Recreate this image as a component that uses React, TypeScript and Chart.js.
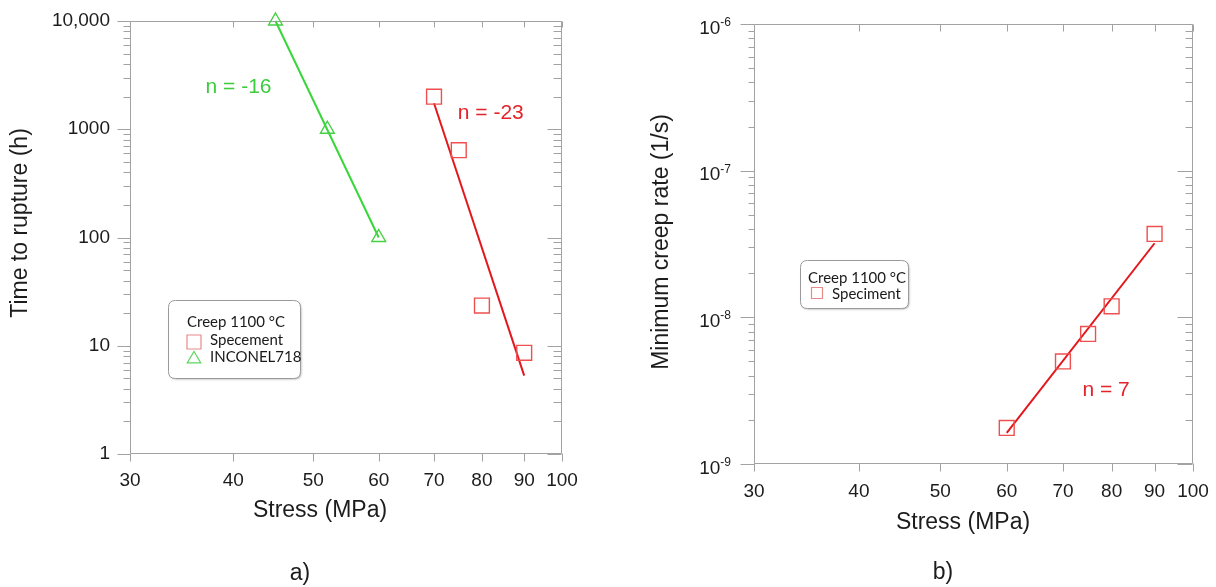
import React, { useEffect, useRef } from "react";
import { Chart, registerables } from "chart.js";

Chart.register(...registerables);

// ---------- Panel a) Time to rupture vs stress ----------
const stressSpecimen = [70, 75, 80, 90];
const ruptureSpecimen = [2000, 640, 23.5, 8.6];
const stressInconel = [45, 52, 60];
const ruptureInconel = [10000, 1000, 100];
const fitSpecimenStress = [70, 90];
const fitSpecimenRupture = [1740, 5.3];
const fitInconelStress = [45, 60];
const fitInconelRupture = [10000, 100];

// ---------- Panel b) Minimum creep rate vs stress ----------
const stressRate = [60, 70, 75, 80, 90];
const minCreepRate = [1.76e-9, 5.0e-9, 7.7e-9, 1.19e-8, 3.7e-8];
const fitRateStress = [60, 90];
const fitRateValues = [1.63e-9, 3.2e-8];

// ---------- Axis ticks / labels ----------
const stressTicks = [30, 40, 50, 60, 70, 80, 90, 100];
const ruptureTicks = [1, 10, 100, 1000, 10000];
const ruptureTickLabels = ["1", "10", "100", "1000", "10,000"];
const rateTicks = [1e-9, 1e-8, 1e-7, 1e-6];
const rateTickExponents = ["-9", "-8", "-7", "-6"];

// ---------- Texts ----------
const legendTitle = "Creep 1100 °C";
const labelSpecimenA = "Specement";
const labelInconel = "INCONEL718";
const labelSpecimenB = "Speciment";
const xTitleText = "Stress (MPa)";
const yTitleA = "Time to rupture (h)";
const yTitleB = "Minimum creep rate (1/s)";
const noteInconel = "n = -16";
const noteSpecimenA = "n = -23";
const noteSpecimenB = "n = 7";
// annotation anchors in data coordinates [stress, value]
const noteInconelAt = [40.6, 2455];
const noteSpecimenAAt = [82, 1413];
const noteSpecimenBAt = [78.8, 3.21e-9];

const FONT = "'Liberation Sans', Arial, sans-serif";
const LEGEND_FONT = "Lato, 'Open Sans', sans-serif";
const TEXT = "#1c1c1c";
const FRAME = "#a2a2a2";
const RED_LINE = "#e3171c";
const RED_MARK = "#ef4f4f";
const RED_TEXT = "#e3232a";
const GREEN_LINE = "#38d638";
const GREEN_MARK = "#45d045";
const GREEN_TEXT = "#3ccc3c";

function decadeMinors(majors: number[]): number[] {
  const out: number[] = [];
  for (let i = 0; i < majors.length - 1; i++) {
    for (let k = 2; k <= 9; k++) out.push(majors[i] * k);
  }
  return out;
}

function pts(xs: number[], ys: number[]) {
  return xs.map((x, i) => ({ x, y: ys[i] }));
}

function roundRect(ctx: any, x: number, y: number, w: number, h: number, r: number) {
  ctx.beginPath();
  ctx.moveTo(x + r, y);
  ctx.lineTo(x + w - r, y);
  ctx.quadraticCurveTo(x + w, y, x + w, y + r);
  ctx.lineTo(x + w, y + h - r);
  ctx.quadraticCurveTo(x + w, y + h, x + w - r, y + h);
  ctx.lineTo(x + r, y + h);
  ctx.quadraticCurveTo(x, y + h, x, y + h - r);
  ctx.lineTo(x, y + r);
  ctx.quadraticCurveTo(x, y, x + r, y);
  ctx.closePath();
}

function makeDeco(d: any) {
  return {
    id: "deco",
    beforeDatasetsDraw(chart: any) {
      const { ctx, chartArea: a, scales } = chart;
      const xs = scales.x;
      const ys = scales.y;
      const t = d.ticks;
      ctx.save();
      ctx.strokeStyle = FRAME;
      ctx.lineWidth = 1;
      const L = Math.round(a.left) + 0.5;
      const R = Math.round(a.right) - 0.5;
      const T = Math.round(a.top) + 0.5;
      const B = Math.round(a.bottom) - 0.5;
      ctx.beginPath();
      ctx.rect(L, T, R - L, B - T);
      for (const v of ys.ticks.map((k: any) => k.value)) {
        const y = Math.round(ys.getPixelForValue(v)) + 0.5;
        ctx.moveTo(L - t.leftMajor, y);
        ctx.lineTo(L, y);
        ctx.moveTo(R, y);
        ctx.lineTo(R - t.rightMajor, y);
      }
      for (const v of t.yMinor) {
        const y = Math.round(ys.getPixelForValue(v)) + 0.5;
        ctx.moveTo(L - t.leftMinor, y);
        ctx.lineTo(L, y);
        ctx.moveTo(R, y);
        ctx.lineTo(R - t.rightMinor, y);
      }
      for (const v of xs.ticks.map((k: any) => k.value)) {
        const x = Math.round(xs.getPixelForValue(v)) + 0.5;
        ctx.moveTo(x, B);
        ctx.lineTo(x, B + t.bottom);
        ctx.moveTo(x, T);
        ctx.lineTo(x, T + t.top);
      }
      ctx.stroke();
      ctx.restore();
    },
    afterDraw(chart: any) {
      const { ctx, scales } = chart;
      const xs = scales.x;
      const ys = scales.y;
      ctx.save();
      ctx.fillStyle = TEXT;
      // axis titles
      ctx.font = `23px ${FONT}`;
      ctx.textAlign = "center";
      ctx.textBaseline = "middle";
      ctx.fillText(d.xTitle.text, d.xTitle.x, d.xTitle.y);
      ctx.save();
      ctx.translate(d.yTitle.x, d.yTitle.y);
      ctx.rotate(-Math.PI / 2);
      ctx.fillText(d.yTitle.text, 0, 0);
      ctx.restore();

      // superscript tick labels
      if (d.sup) {
        for (let i = 0; i < d.sup.values.length; i++) {
          const y = ys.getPixelForValue(d.sup.values[i]);
          ctx.textBaseline = "alphabetic";
          ctx.textAlign = "right";
          ctx.font = `12px ${FONT}`;
          const ew = ctx.measureText(d.sup.exps[i]).width;
          ctx.fillText(d.sup.exps[i], d.sup.right, y + 2);
          ctx.font = `19px ${FONT}`;
          ctx.fillText("10", d.sup.right - ew, y + 9.5);
        }
      }

      // regression annotations
      ctx.font = `21px ${FONT}`;
      ctx.textAlign = "center";
      ctx.textBaseline = "middle";
      for (const n of d.notes) {
        ctx.fillStyle = n.color;
        ctx.fillText(n.text, xs.getPixelForValue(n.at[0]), ys.getPixelForValue(n.at[1]));
      }

      // legend
      const g = d.legend;
      ctx.save();
      ctx.shadowColor = "rgba(0,0,0,0.28)";
      ctx.shadowBlur = 2;
      ctx.shadowOffsetX = 1;
      ctx.shadowOffsetY = 1;
      roundRect(ctx, g.x + 0.5, g.y + 0.5, g.w, g.h, 7);
      ctx.fillStyle = "#ffffff";
      ctx.fill();
      ctx.restore();
      roundRect(ctx, g.x + 0.5, g.y + 0.5, g.w, g.h, 7);
      ctx.strokeStyle = "#9a9a9a";
      ctx.lineWidth = 1;
      ctx.stroke();
      ctx.fillStyle = "#1a1a1a";
      ctx.font = `15px ${LEGEND_FONT}`;
      ctx.textAlign = "left";
      ctx.textBaseline = "middle";
      ctx.fillText(g.title, g.titleX, g.titleY);
      for (const it of g.items) {
        ctx.fillStyle = "#1a1a1a";
        ctx.fillText(it.label, it.tx, it.ty);
        ctx.strokeStyle = it.color;
        ctx.lineWidth = 1.2;
        ctx.beginPath();
        const s = it.size / 2;
        if (it.shape === "rect") {
          ctx.rect(it.mx - s, it.my - s, it.size, it.size);
        } else {
          ctx.moveTo(it.mx, it.my - s);
          ctx.lineTo(it.mx + s * 1.05, it.my + s * 0.75);
          ctx.lineTo(it.mx - s * 1.05, it.my + s * 0.75);
          ctx.closePath();
        }
        ctx.stroke();
      }
      ctx.restore();
    },
  };
}

function commonScales(opts: any) {
  return {
    x: {
      type: "logarithmic",
      min: 30,
      max: 100,
      bounds: "data",
      afterBuildTicks: (s: any) => {
        s.ticks = stressTicks.map((v) => ({ value: v }));
      },
      afterFit: (s: any) => {
        s.height = opts.xHeight;
        s.paddingLeft = 0;
        s.paddingRight = 0;
        s.paddingTop = 0;
        s.paddingBottom = 0;
      },
      grid: { display: false, drawTicks: false, tickLength: 0 },
      border: { display: false },
      ticks: {
        autoSkip: false,
        maxRotation: 0,
        padding: opts.xPad,
        color: TEXT,
        font: { family: FONT, size: 19 },
        callback: (v: any) => String(v),
      },
      title: { display: false },
    },
    y: {
      type: "logarithmic",
      min: opts.yMin,
      max: opts.yMax,
      bounds: "data",
      afterBuildTicks: (s: any) => {
        s.ticks = opts.yTicks.map((v: number) => ({ value: v }));
      },
      afterFit: (s: any) => {
        s.width = opts.yWidth;
        s.paddingLeft = 0;
        s.paddingRight = 0;
        s.paddingTop = 0;
        s.paddingBottom = 0;
      },
      grid: { display: false, drawTicks: false, tickLength: 0 },
      border: { display: false },
      ticks: {
        display: opts.yLabels !== null,
        autoSkip: false,
        padding: 20,
        color: TEXT,
        font: { family: FONT, size: 19 },
        callback: (v: any) => {
          if (!opts.yLabels) return "";
          const i = opts.yTicks.indexOf(v);
          return i >= 0 ? opts.yLabels[i] : "";
        },
      },
      title: { display: false },
    },
  };
}

function leftConfig(): any {
  return {
    type: "scatter",
    data: {
      datasets: [
        {
          label: labelSpecimenA,
          data: pts(stressSpecimen, ruptureSpecimen),
          pointStyle: "rect",
          pointRadius: 10.5,
          borderColor: RED_MARK,
          backgroundColor: "rgba(0,0,0,0)",
          borderWidth: 1.4,
          clip: false,
        },
        {
          label: labelInconel,
          data: pts(stressInconel, ruptureInconel),
          pointStyle: "triangle",
          pointRadius: 8,
          borderColor: GREEN_MARK,
          backgroundColor: "rgba(0,0,0,0)",
          borderWidth: 1.4,
          clip: false,
        },
        {
          label: "fit specimen",
          data: pts(fitSpecimenStress, fitSpecimenRupture),
          showLine: true,
          pointRadius: 0,
          borderColor: RED_LINE,
          borderWidth: 2,
          clip: false,
        },
        {
          label: "fit inconel",
          data: pts(fitInconelStress, fitInconelRupture),
          showLine: true,
          pointRadius: 0,
          borderColor: GREEN_LINE,
          borderWidth: 2,
          clip: false,
        },
      ],
    },
    options: {
      animation: false,
      responsive: false,
      devicePixelRatio: 1,
      layout: { padding: { top: 21, right: 38, left: 0, bottom: 0 } },
      plugins: { legend: { display: false }, tooltip: { enabled: false } },
      scales: commonScales({
        xHeight: 133,
        xPad: 15,
        yMin: 1,
        yMax: 10000,
        yTicks: ruptureTicks,
        yLabels: ruptureTickLabels,
        yWidth: 130,
      }),
    },
    plugins: [
      makeDeco({
        ticks: {
          yMinor: decadeMinors(ruptureTicks),
          leftMajor: 13,
          leftMinor: 7,
          rightMajor: 14,
          rightMinor: 8,
          top: 6,
          bottom: 8,
        },
        xTitle: { text: xTitleText, x: 320, y: 511 },
        yTitle: { text: yTitleA, x: 21, y: 223 },
        notes: [
          { text: noteInconel, at: noteInconelAt, color: GREEN_TEXT },
          { text: noteSpecimenA, at: noteSpecimenAAt, color: RED_TEXT },
        ],
        legend: {
          x: 168,
          y: 300,
          w: 132,
          h: 78,
          title: legendTitle,
          titleX: 187,
          titleY: 322,
          items: [
            { label: labelSpecimenA, shape: "rect", color: "#e98a8a", size: 14, mx: 194, my: 342, tx: 210, ty: 340 },
            { label: labelInconel, shape: "tri", color: "#5fd65f", size: 13, mx: 194, my: 358, tx: 210, ty: 357 },
          ],
        },
      }),
    ],
  };
}

function rightConfig(): any {
  return {
    type: "scatter",
    data: {
      datasets: [
        {
          label: labelSpecimenB,
          data: pts(stressRate, minCreepRate),
          pointStyle: "rect",
          pointRadius: 10.5,
          borderColor: RED_MARK,
          backgroundColor: "rgba(0,0,0,0)",
          borderWidth: 1.4,
          clip: false,
        },
        {
          label: "fit specimen",
          data: pts(fitRateStress, fitRateValues),
          showLine: true,
          pointRadius: 0,
          borderColor: RED_LINE,
          borderWidth: 2,
          clip: false,
        },
      ],
    },
    options: {
      animation: false,
      responsive: false,
      devicePixelRatio: 1,
      layout: { padding: { top: 24, right: 23, left: 0, bottom: 0 } },
      plugins: { legend: { display: false }, tooltip: { enabled: false } },
      scales: commonScales({
        xHeight: 123,
        xPad: 16,
        yMin: 1e-9,
        yMax: 1e-6,
        yTicks: rateTicks,
        yLabels: null,
        yWidth: 154,
      }),
    },
    plugins: [
      makeDeco({
        ticks: {
          yMinor: decadeMinors(rateTicks),
          leftMajor: 14,
          leftMinor: 6,
          rightMajor: 15,
          rightMinor: 7,
          top: 7,
          bottom: 8,
        },
        sup: { values: rateTicks, exps: rateTickExponents, right: 131 },
        xTitle: { text: xTitleText, x: 363, y: 523 },
        yTitle: { text: yTitleB, x: 62, y: 242 },
        notes: [{ text: noteSpecimenB, at: noteSpecimenBAt, color: RED_TEXT }],
        legend: {
          x: 200,
          y: 260,
          w: 108,
          h: 48,
          title: legendTitle,
          titleX: 208,
          titleY: 278,
          items: [
            { label: labelSpecimenB, shape: "rect", color: "#e98a8a", size: 11, mx: 217, my: 293, tx: 232, ty: 294 },
          ],
        },
      }),
    ],
  };
}

export default function App() {
  const leftRef = useRef<HTMLCanvasElement>(null);
  const rightRef = useRef<HTMLCanvasElement>(null);

  useEffect(() => {
    document.body.style.margin = "0";
    const a = new Chart(leftRef.current as HTMLCanvasElement, leftConfig());
    const b = new Chart(rightRef.current as HTMLCanvasElement, rightConfig());
    return () => {
      a.destroy();
      b.destroy();
    };
  }, []);

  return (
    <div
      style={{
        position: "relative",
        width: 1216,
        height: 587,
        background: "#ffffff",
        overflow: "hidden",
        fontFamily: FONT,
      }}
    >
      <canvas ref={leftRef} width={600} height={587} style={{ position: "absolute", left: 0, top: 0 }} />
      <canvas ref={rightRef} width={616} height={587} style={{ position: "absolute", left: 600, top: 0 }} />
      <div
        style={{
          position: "absolute",
          left: 270,
          top: 559,
          width: 60,
          textAlign: "center",
          fontSize: 23,
          lineHeight: "26px",
          color: TEXT,
        }}
      >
        a)
      </div>
      <div
        style={{
          position: "absolute",
          left: 913,
          top: 558,
          width: 60,
          textAlign: "center",
          fontSize: 23,
          lineHeight: "26px",
          color: TEXT,
        }}
      >
        b)
      </div>
    </div>
  );
}
